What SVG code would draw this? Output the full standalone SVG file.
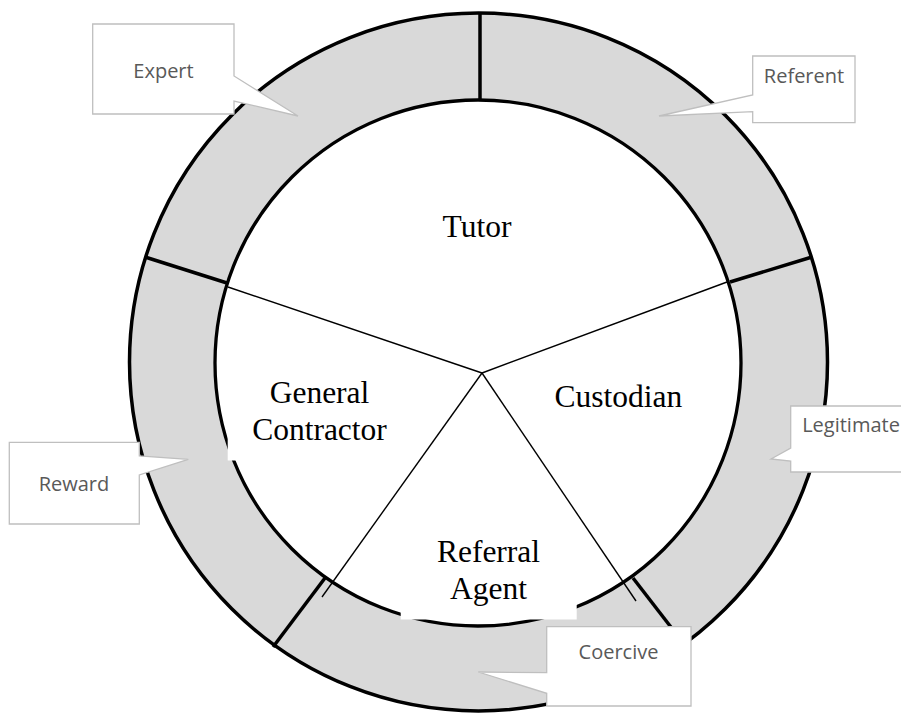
<svg xmlns="http://www.w3.org/2000/svg" width="901" height="715" viewBox="0 0 901 715">
<style>
.ring{fill:#d9d9d9;stroke:#000;stroke-width:3.5}
.inner{fill:#fff;stroke:#000;stroke-width:3.3}
.div{stroke:#000;stroke-width:3.5;fill:none}
.thin{stroke:#000;stroke-width:1.4;fill:none}
.mask{fill:#fff;stroke:none}
.lbl{font-family:"Liberation Serif","Times New Roman",serif;font-size:31.5px;fill:#000;text-anchor:middle}
.co{fill:#fff;stroke:#bfbfbf;stroke-width:1.3}
.cot{font-family:"Open Sans","Liberation Sans",sans-serif;font-size:20px;fill:#595959;text-anchor:middle}
</style>
<rect width="901" height="715" fill="#fff"/>
<g id="wheel">
<circle class="ring" cx="478.5" cy="362" r="349"/>
<circle class="inner" cx="478" cy="363" r="263"/>
</g>
<g id="connectors">
<line class="div" x1="480" y1="13" x2="480" y2="100"/>
<line class="div" x1="145" y1="257" x2="227" y2="283"/>
<line class="div" x1="812" y1="257" x2="730" y2="282"/>
<line class="div" x1="273" y1="647" x2="325" y2="578"/>
<line class="div" x1="633" y1="578" x2="684" y2="644"/>
<line class="thin" x1="482" y1="373" x2="228" y2="287"/>
<line class="thin" x1="482" y1="373" x2="727" y2="282"/>
<line class="thin" x1="482" y1="373" x2="322" y2="597"/>
<line class="thin" x1="482" y1="373" x2="636" y2="601"/>
</g>
<g id="tutor">
<text class="lbl" x="477" y="237">Tutor</text>
</g>
<g id="general-contractor">
<rect class="mask" x="227.7" y="372" width="180" height="88.5"/>
<text class="lbl" x="319.5" y="402.7">General</text>
<text class="lbl" x="319.5" y="440">Contractor</text>
</g>
<g id="custodian">
<text class="lbl" x="618.3" y="407.3">Custodian</text>
</g>
<g id="referral-agent">
<rect class="mask" x="400.7" y="525" width="176" height="94.5"/>
<text class="lbl" x="488.5" y="561.7">Referral</text>
<text class="lbl" x="488.5" y="599.3">Agent</text>
</g>
<g id="expert">
<path class="co" d="M92.7,24 H234 V76 L298,116 L234,101 V114 H92.7 Z"/>
<text class="cot" x="163.5" y="78">Expert</text>
</g>
<g id="referent">
<path class="co" d="M752.7,56 H855 V122.7 H752.7 V111.7 L659,116 L752.7,95 Z"/>
<text class="cot" x="804" y="83">Referent</text>
</g>
<g id="legitimate">
<path class="co" d="M790.7,406 H905 V472 H790.7 V461 L771,459 L790.7,448 Z"/>
<text class="cot" x="851" y="431.7">Legitimate</text>
</g>
<g id="reward">
<path class="co" d="M9.3,442.3 H139.3 V456 L188.3,459.3 L139.3,475 V524 H9.3 Z"/>
<text class="cot" x="74" y="490.7">Reward</text>
</g>
<g id="coercive">
<path class="co" d="M546.7,626.7 H691 V706 H546.7 V693.3 L478.3,672 L546.7,672.7 Z"/>
<text class="cot" x="618.5" y="659.3">Coercive</text>
</g>
</svg>
